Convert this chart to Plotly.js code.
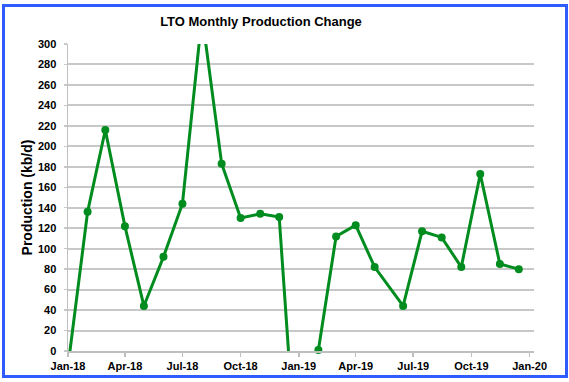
<!DOCTYPE html>
<html>
<head>
<meta charset="utf-8">
<script src="https://cdn.plot.ly/plotly-3.0.1.min.js"></script>
<style>
  html, body { margin: 0; padding: 0; background: #ffffff; }
  #wrap { position: relative; width: 569px; height: 382px; }
  #chart { position: absolute; left: 0; top: 0; width: 569px; height: 382px; }
  #frame { position: absolute; left: 2px; top: 4px; width: 566px; height: 374px;
           box-sizing: border-box; border: 3.5px solid #2f5bff; pointer-events: none; }
</style>
</head>
<body>
<div id="wrap">
  <div id="chart"></div>
  <div id="frame"></div>
</div>
<script>
// Monthly dates (points from Jun-19 onward sit mid-month in the reference)
const dates = [
  '2018-01-01','2018-02-01','2018-03-01','2018-04-01','2018-05-01','2018-06-01',
  '2018-07-01','2018-08-01','2018-09-01','2018-10-01','2018-11-01','2018-12-01',
  '2019-01-01','2019-02-01','2019-03-01','2019-04-01','2019-05-01','2019-06-15',
  '2019-07-15','2019-08-15','2019-09-15','2019-10-15','2019-11-15','2019-12-15'
];
// LTO monthly production change (kb/d)
const productionChange = [
  -15, 136, 216, 122, 44, 92,
  144, 328, 183, 130, 134, 131,
  -145, 1, 112, 123, 82, 44,
  117, 111, 82, 173, 85, 80
];
const xTickVals = ['2018-01-01','2018-04-01','2018-07-01','2018-10-01','2019-01-01',
                   '2019-04-01','2019-07-01','2019-10-01','2020-01-01'];
const xTickText = ['Jan-18','Apr-18','Jul-18','Oct-18','Jan-19','Apr-19','Jul-19','Oct-19','Jan-20'];

const green = '#008c1e';
const font = 'Liberation Sans, Arial, sans-serif';

const trace = {
  x: dates,
  y: productionChange,
  type: 'scatter',
  mode: 'lines+markers',
  line: { color: green, width: 3 },
  marker: { color: green, size: 8 },
  cliponaxis: false,
  hoverinfo: 'x+y'
};

const layout = {
  width: 569,
  height: 382,
  margin: { l: 68, r: 35, t: 44, b: 31, pad: 0 },
  paper_bgcolor: '#ffffff',
  plot_bgcolor: '#ffffff',
  showlegend: false,
  font: { family: font, color: '#000000' },
  title: {
    text: '<b>LTO Monthly Production Change</b>',
    font: { family: font, size: 13, color: '#000000' },
    xref: 'container', x: 0.4587, xanchor: 'center',
    yref: 'container', y: 0.943, yanchor: 'middle'
  },
  xaxis: {
    type: 'date',
    range: ['2018-01-01', '2020-01-08'],
    tickvals: xTickVals,
    ticktext: xTickText,
    tickfont: { family: font, size: 11, color: '#000000', weight: 'bold' },
    showgrid: false,
    zeroline: false,
    showline: true,
    linecolor: '#bfbfbf',
    linewidth: 1.5,
    ticks: 'outside',
    ticklen: 4,
    tickwidth: 1.5,
    tickcolor: '#bfbfbf',
    fixedrange: true
  },
  yaxis: {
    range: [0, 300],
    dtick: 20,
    tick0: 0,
    tickfont: { family: font, size: 11, color: '#000000', weight: 'bold' },
    showgrid: true,
    gridcolor: '#c8c8c8',
    gridwidth: 2,
    zeroline: false,
    showline: true,
    linecolor: '#bfbfbf',
    linewidth: 1.5,
    ticks: 'outside',
    ticklen: 3,
    tickwidth: 1.5,
    tickcolor: '#c8c8c8',
    ticklabelstandoff: 5,
    title: {
      text: '<b>Production (kb/d)</b>',
      font: { family: font, size: 14, color: '#000000' },
      standoff: 2
    },
    fixedrange: true
  }
};

Plotly.newPlot('chart', [trace], layout, { displayModeBar: false, staticPlot: true });
</script>
</body>
</html>
